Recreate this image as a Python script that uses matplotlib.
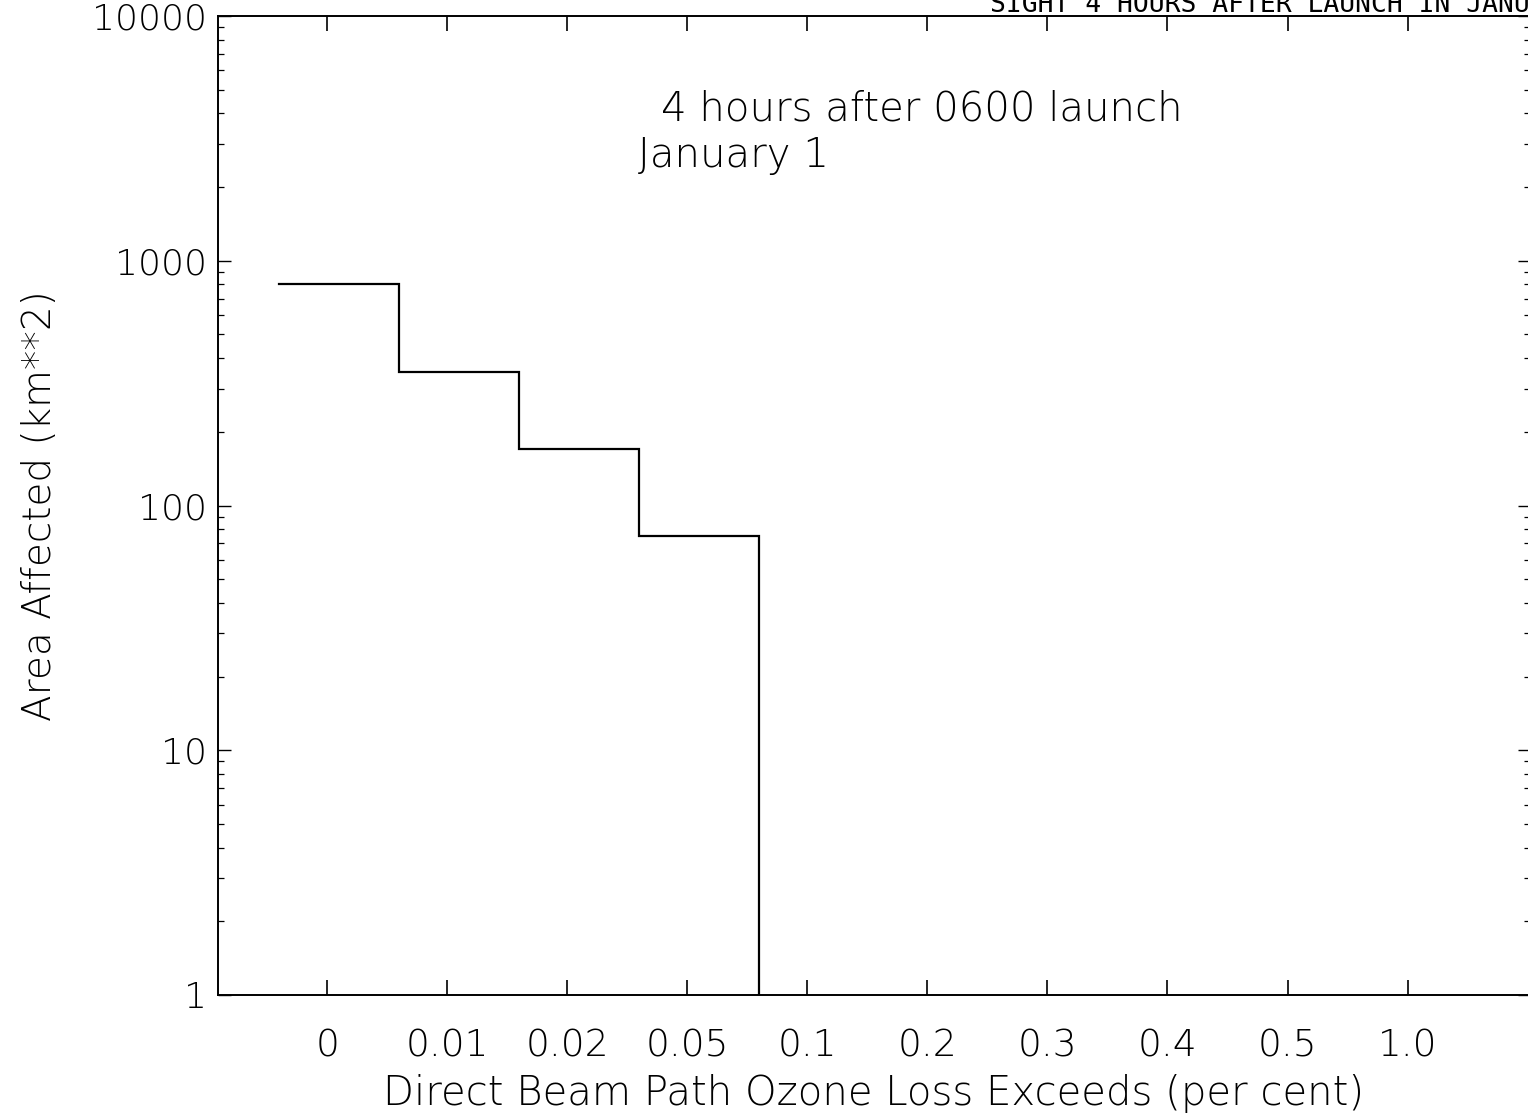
import matplotlib
matplotlib.use("Agg")
import matplotlib.pyplot as plt
from matplotlib.ticker import LogLocator, NullFormatter, FixedLocator

# Ozone-loss thresholds (per cent) shown as categories along the x axis
thresholds = ["0", "0.01", "0.02", "0.05", "0.1", "0.2", "0.3", "0.4", "0.5", "1.0"]
# Area (km**2) where the direct beam path ozone loss exceeds each threshold
area_km2 = [800, 350, 170, 75]

y_ticks = [1, 10, 100, 1000, 10000]
y_tick_labels = ["1", "10", "100", "1000", "10000"]

plt.rcParams["font.family"] = ["DejaVu Sans"]
font = dict(family="DejaVu Sans", weight="light")

W, H = 1528, 1118
fig = plt.figure(figsize=(W / 100, H / 100), dpi=100)
ax = fig.add_axes([218 / W, 1 - 995 / H, (1530 - 218) / W, (995 - 16) / H])

# Step outline: each threshold occupies one category slot, then falls to the floor
xs, ys = [], []
for i, a in enumerate(area_km2):
    xs += [i - 0.4, i + 0.6]
    ys += [a, a]
xs.append(len(area_km2) - 0.4)
ys.append(1)
ax.plot(xs, ys, color="black", lw=1.6, solid_joinstyle="miter")

ax.set_yscale("log")
ax.set_ylim(1, 10000)
ax.set_xlim(-0.91, 10.02)

ax.set_xticks(range(len(thresholds)))
ax.set_xticklabels(thresholds, fontsize=27, **font)
ax.yaxis.set_major_locator(FixedLocator(y_ticks))
ax.set_yticklabels(y_tick_labels, fontsize=26, **font)
ax.yaxis.set_minor_locator(LogLocator(base=10, subs=range(2, 10)))
ax.yaxis.set_minor_formatter(NullFormatter())

ax.tick_params(axis="x", which="major", direction="in", length=11, width=1.2,
               top=True, bottom=True, pad=24)
ax.tick_params(axis="y", which="major", direction="in", length=9, width=1.0,
               left=True, right=True, pad=8)
ax.tick_params(axis="y", which="minor", direction="in", length=4, width=0.9,
               left=True, right=True)
for s in ax.spines.values():
    s.set_linewidth(1.4)

ax.set_xlabel("Direct Beam Path Ozone Loss Exceeds (per cent)", fontsize=29,
              labelpad=8, **font)
ax.set_ylabel("Area Affected (km**2)", fontsize=28, labelpad=24, **font)

ax.text(0.338, 0.905, "4 hours after 0600 launch", transform=ax.transAxes,
        fontsize=29, ha="left", va="center", **font)
ax.text(0.32, 0.857, "January 1", transform=ax.transAxes,
        fontsize=29, ha="left", va="center", **font)

# Header line running off the top of the sheet
fig.text(990 / W, 1 - 12 / H, "SIGHT 4 HOURS AFTER LAUNCH IN JANUARY",
         family="DejaVu Sans Mono", fontsize=19, ha="left", va="baseline")

fig.savefig("out.png", dpi=100, facecolor="white")
